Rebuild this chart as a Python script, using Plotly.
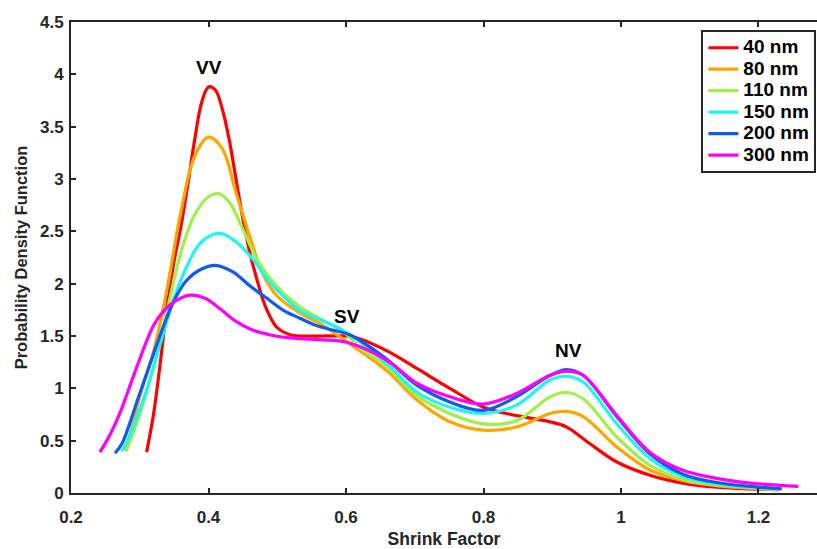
import plotly.graph_objects as go

names = ["40 nm", "80 nm", "110 nm", "150 nm", "200 nm", "300 nm"]
colors = ["#FF0000", "#FFA500", "#A0F04A", "#1EF5F5", "#0F5AF0", "#FF00FF"]

x40 = [0.31, 0.32, 0.33, 0.34, 0.35, 0.36, 0.37, 0.38, 0.39, 0.40, 0.41, 0.42, 0.43, 0.44, 0.45, 0.46, 0.47, 0.48, 0.49, 0.50, 0.52, 0.55, 0.58, 0.611, 0.659, 0.703, 0.751, 0.80, 0.848, 0.897, 0.921, 0.955, 0.994, 1.042, 1.09, 1.139, 1.23]
y40 = [0.39, 0.75, 1.25, 1.80, 2.22, 2.55, 2.95, 3.38, 3.73, 3.88, 3.85, 3.67, 3.38, 3.00, 2.62, 2.30, 2.05, 1.83, 1.68, 1.58, 1.51, 1.50, 1.50, 1.49, 1.36, 1.19, 1.00, 0.82, 0.74, 0.68, 0.63, 0.47, 0.296, 0.17, 0.095, 0.057, 0.032]

x80 = [0.28, 0.30, 0.32, 0.34, 0.36, 0.38, 0.40, 0.42, 0.44, 0.46, 0.48, 0.50, 0.533, 0.567, 0.60, 0.659, 0.703, 0.751, 0.80, 0.848, 0.897, 0.921, 0.945, 0.994, 1.042, 1.09, 1.139, 1.23]
y80 = [0.40, 0.92, 1.35, 1.96, 2.69, 3.22, 3.40, 3.29, 2.87, 2.45, 2.08, 1.88, 1.72, 1.60, 1.45, 1.17, 0.89, 0.68, 0.60, 0.63, 0.76, 0.78, 0.73, 0.44, 0.22, 0.12, 0.07, 0.03]

x110 = [0.28, 0.30, 0.32, 0.34, 0.36, 0.38, 0.40, 0.415, 0.43, 0.45, 0.47, 0.49, 0.509, 0.533, 0.567, 0.596, 0.62, 0.659, 0.703, 0.751, 0.80, 0.848, 0.897, 0.921, 0.945, 0.994, 1.042, 1.09, 1.139, 1.23]
y110 = [0.40, 0.75, 1.20, 1.75, 2.30, 2.66, 2.83, 2.86, 2.78, 2.52, 2.24, 2.05, 1.91, 1.78, 1.65, 1.54, 1.39, 1.21, 0.93, 0.76, 0.66, 0.69, 0.92, 0.96, 0.90, 0.535, 0.265, 0.13, 0.08, 0.035]

x150 = [0.274, 0.2785, 0.305, 0.334, 0.35, 0.368, 0.39, 0.4167, 0.44, 0.465, 0.485, 0.509, 0.533, 0.557, 0.582, 0.606, 0.659, 0.703, 0.751, 0.80, 0.848, 0.897, 0.921, 0.945, 0.994, 1.042, 1.09, 1.139, 1.23]
y150 = [0.40, 0.45, 0.885, 1.52, 1.86, 2.16, 2.40, 2.48, 2.40, 2.23, 2.05, 1.88, 1.745, 1.67, 1.60, 1.51, 1.24, 0.965, 0.82, 0.76, 0.84, 1.08, 1.115, 1.06, 0.66, 0.33, 0.16, 0.09, 0.04]

x200 = [0.264, 0.274, 0.30, 0.334, 0.35, 0.368, 0.39, 0.4095, 0.436, 0.46, 0.485, 0.509, 0.533, 0.557, 0.582, 0.606, 0.659, 0.703, 0.751, 0.80, 0.848, 0.897, 0.921, 0.945, 0.994, 1.042, 1.09, 1.139, 1.234]
y200 = [0.38, 0.47, 0.95, 1.585, 1.84, 2.03, 2.14, 2.175, 2.11, 1.98, 1.86, 1.745, 1.67, 1.60, 1.555, 1.51, 1.28, 1.03, 0.87, 0.79, 0.92, 1.125, 1.18, 1.125, 0.73, 0.375, 0.18, 0.10, 0.04]

x300 = [0.242, 0.257, 0.271, 0.2955, 0.32, 0.335, 0.351, 0.373, 0.395, 0.4167, 0.44, 0.465, 0.49, 0.514, 0.562, 0.601, 0.659, 0.703, 0.751, 0.80, 0.848, 0.897, 0.921, 0.945, 0.994, 1.042, 1.09, 1.139, 1.188, 1.258]
y300 = [0.39, 0.56, 0.76, 1.20, 1.60, 1.74, 1.83, 1.89, 1.86, 1.76, 1.64, 1.555, 1.51, 1.485, 1.465, 1.44, 1.27, 1.05, 0.92, 0.85, 0.95, 1.125, 1.165, 1.125, 0.74, 0.39, 0.217, 0.14, 0.095, 0.064]

xs = [x40, x80, x110, x150, x200, x300]
ys = [y40, y80, y110, y150, y200, y300]

peak_labels = ["VV", "SV", "NV"]
peak_x = [0.401, 0.601, 0.923]
peak_y = [4.07, 1.69, 1.36]

x_ticks = [0.2, 0.4, 0.6, 0.8, 1.0, 1.2]
x_tick_text = ["0.2", "0.4", "0.6", "0.8", "1", "1.2"]
y_ticks = [0, 0.5, 1, 1.5, 2, 2.5, 3, 3.5, 4, 4.5]
y_tick_text = ["0", "0.5", "1", "1.5", "2", "2.5", "3", "3.5", "4", "4.5"]

FONT = "Liberation Sans, Arial, sans-serif"
AX = "#262626"

fig = go.Figure()
for n, c, x, y in zip(names, colors, xs, ys):
    fig.add_trace(go.Scatter(x=x, y=y, mode="lines",
                             name="<span style='font-size:19px'>" + n + "</span>",
                             line=dict(color=c, width=3.2, shape="spline", smoothing=1.0)))

for t, px, py in zip(peak_labels, peak_x, peak_y):
    fig.add_annotation(x=px, y=py, text=t, showarrow=False,
                       font=dict(family=FONT, size=19, color="black", weight="bold"))

fig.update_layout(
    width=817, height=549,
    margin=dict(l=71, r=0, t=22, b=56),
    paper_bgcolor="white", plot_bgcolor="white",
    font=dict(family=FONT, color=AX),
    legend=dict(x=0.845, y=0.983, xanchor="left", yanchor="top",
                bgcolor="white", bordercolor=AX, borderwidth=2,
                font=dict(family=FONT, size=14.2, color="black", weight="bold"),
                tracegroupgap=0, itemwidth=30),
    xaxis=dict(range=[0.2, 1.2851], tickvals=x_ticks, ticktext=x_tick_text,
               showgrid=False, zeroline=False, showline=True, linecolor=AX, linewidth=2,
               mirror="ticks", ticks="inside", ticklen=5, tickwidth=2, tickcolor=AX,
               ticklabelstandoff=8, automargin=False,
               tickfont=dict(family=FONT, size=17, color=AX, weight="bold"),
               title=dict(text="Shrink Factor", standoff=7,
                          font=dict(family=FONT, size=17.5, color=AX, weight="bold"))),
    yaxis=dict(range=[0, 4.5], tickvals=y_ticks, ticktext=y_tick_text,
               showgrid=False, zeroline=False, showline=True, linecolor=AX, linewidth=2,
               ticks="inside", ticklen=5, tickwidth=2, tickcolor=AX,
               ticklabelstandoff=2, automargin=False,
               tickfont=dict(family=FONT, size=17, color=AX, weight="bold"),
               title=dict(text="Probability Density Function", standoff=8,
                          font=dict(family=FONT, size=16.5, color=AX, weight="bold"))),
)

fig.write_html("out.html")
